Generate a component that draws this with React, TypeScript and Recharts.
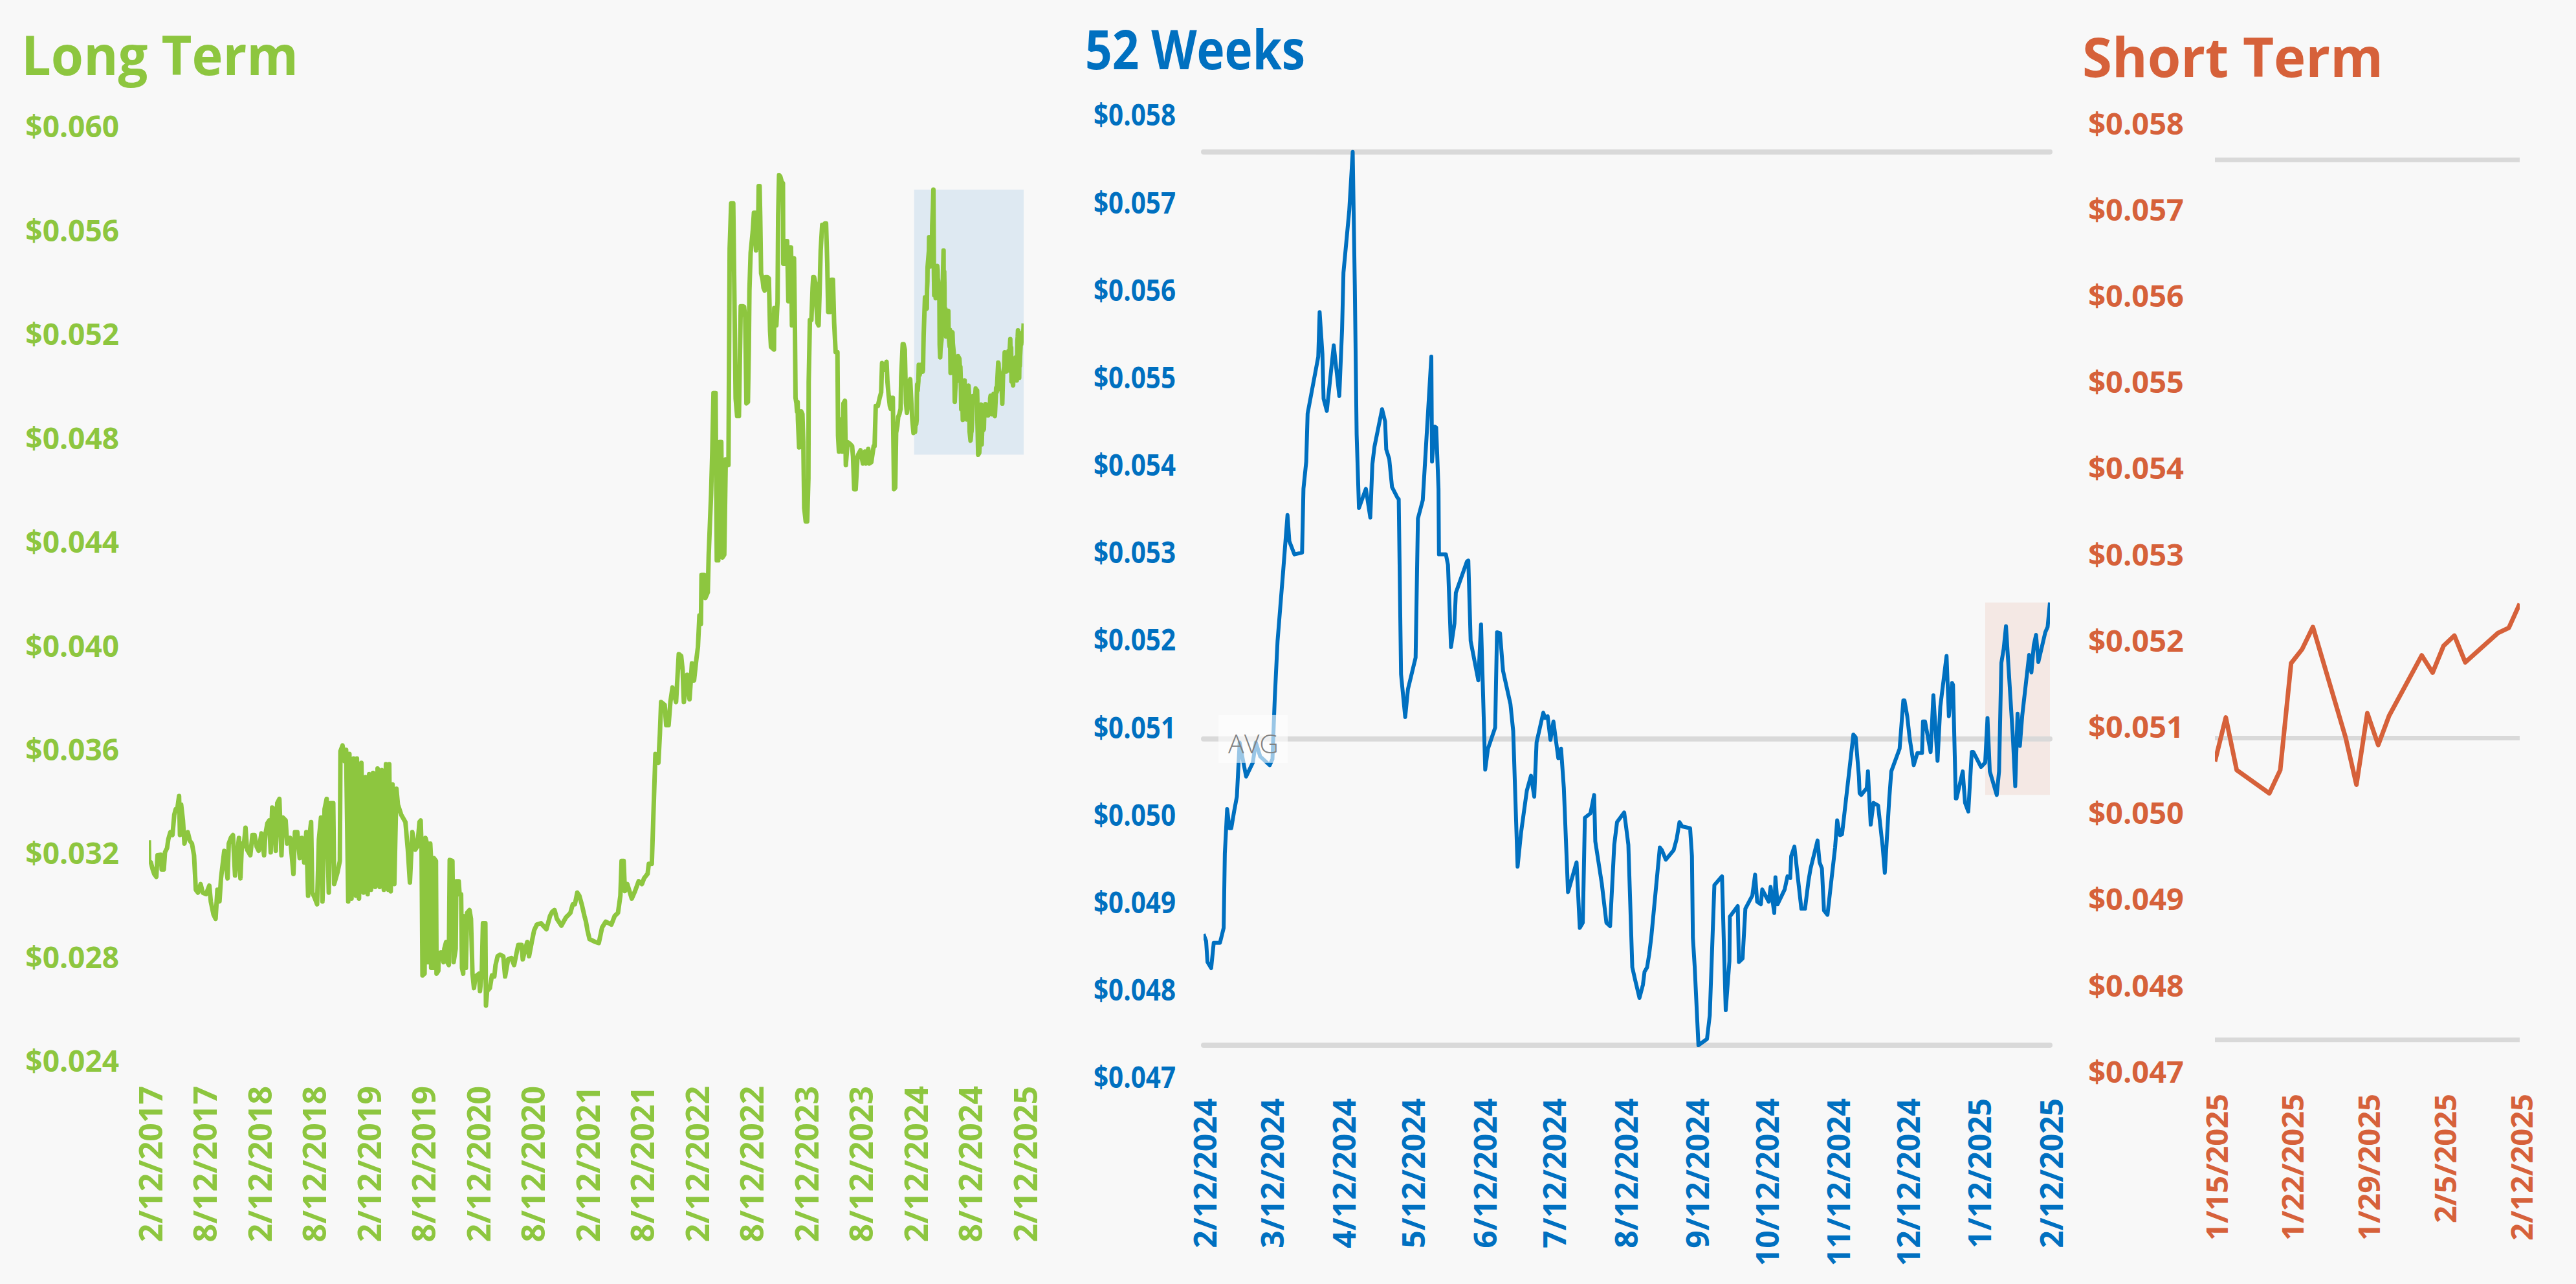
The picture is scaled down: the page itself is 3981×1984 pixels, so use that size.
import React from 'react';
import { LineChart, Line, XAxis, YAxis, ReferenceLine, ReferenceArea } from 'recharts';

// ---------- DATA ----------
// Long term: [days since 2/12/2017, price]
const longTerm2017to2019: [number, number][] = [
  [0,0.03252],[1,0.03172],[7,0.03166],[13,0.03139],[18,0.03122],[25,0.03111],[29,0.03194],[40,0.03196],[43,0.03139],[50,0.03139],
  [54,0.03205],[61,0.03222],[65,0.03255],[72,0.03283],[79,0.03272],[85,0.03350],[90,0.03372],[95,0.03372],[101,0.03422],[104,0.03272],
  [108,0.03389],[114,0.03328],[119,0.03239],[124,0.03272],[130,0.03283],[137,0.03250],[144,0.03239],[151,0.03194],[157,0.03061],[164,0.03050],
  [173,0.03083],[180,0.03050],[191,0.03044],[202,0.03077],[207,0.03016],[216,0.02966],[223,0.02949],[229,0.03061],[236,0.03016],[241,0.03105],
  [252,0.03211],[263,0.03105],[267,0.03239],[274,0.03261],[281,0.03272],[288,0.03116],[295,0.03194],[301,0.03261],[306,0.03105],[311,0.03239],
  [317,0.03228],[323,0.03300],[328,0.03216],[339,0.03194],[346,0.03272],[353,0.03272],[360,0.03228],[367,0.03211],[376,0.03278],[385,0.03194],
  [389,0.03272],[396,0.03317],[402,0.03328],[407,0.03205],[412,0.03378],[418,0.03372],[424,0.03211],[429,0.03395],[436,0.03411],[443,0.03194],
  [448,0.03339],[457,0.03328],[462,0.03239],[472,0.03261],[483,0.03122],[488,0.03283],[496,0.03283],[504,0.03183],[511,0.03261],[519,0.03166],
  [526,0.03283],[532,0.03038],[537,0.03272],[542,0.03322],[546,0.03050],[555,0.03027],[562,0.03005],[568,0.03255],[575,0.03339],[580,0.03016],
  [587,0.03372],[594,0.03411],[601,0.03050],[607,0.03395],[616,0.03395],[619,0.03083],[630,0.03127],[638,0.03172],[640,0.03595],[647,0.03617],
  [654,0.03556],[659,0.03600],[666,0.03016],[670,0.03584],[677,0.03027],[684,0.03567],[692,0.03038],[695,0.03567],[702,0.03027],[710,0.03550],
  [717,0.03050],[724,0.03495],[731,0.03044],[736,0.03506],[742,0.03061],[749,0.03511],[756,0.03072],[764,0.03528],[771,0.03072],[778,0.03522],
  [785,0.03061],[792,0.03545],[800,0.03061],[803,0.03545],[808,0.03055],[814,0.03467],[820,0.03083],[827,0.03450],[832,0.03389],[843,0.03350],
  [857,0.03322],[865,0.03216],[872,0.03089],[880,0.03283],[890,0.03216],[897,0.03228],[904,0.03322],
];
const longTerm2019to2022: [number, number][] = [
  [908,0.03328],[911,0.03216],[914,0.02731],[921,0.02738],[924,0.03261],[929,0.03239],[932,0.02782],[938,0.02782],[940,0.03239],[942,0.03194],
  [943,0.02760],[949,0.02760],[952,0.03183],[959,0.03172],[961,0.02738],[967,0.02749],[968,0.02816],[976,0.02820],[984,0.02782],[987,0.02834],
  [993,0.02860],[997,0.02782],[1002,0.02771],[1005,0.03176],[1014,0.03172],[1018,0.02782],[1025,0.02834],[1027,0.03094],[1035,0.03094],[1038,0.03043],
  [1043,0.03043],[1046,0.02760],[1050,0.02738],[1052,0.02960],[1058,0.02949],[1059,0.02760],[1063,0.02972],[1071,0.02983],[1076,0.02949],[1081,0.02738],
  [1086,0.02682],[1091,0.02727],[1103,0.02738],[1106,0.02671],[1112,0.02738],[1116,0.02932],[1124,0.02932],[1126,0.02615],[1130,0.02671],[1139,0.02682],
  [1146,0.02731],[1154,0.02727],[1158,0.02771],[1165,0.02805],[1173,0.02811],[1184,0.02805],[1190,0.02727],[1200,0.02793],[1211,0.02798],[1220,0.02771],
  [1228,0.02816],[1234,0.02849],[1245,0.02849],[1249,0.02793],[1256,0.02827],[1264,0.02860],[1270,0.02805],[1279,0.02860],[1287,0.02905],[1296,0.02927],
  [1310,0.02932],[1328,0.02909],[1340,0.02960],[1347,0.02976],[1355,0.02983],[1363,0.02949],[1378,0.02923],[1393,0.02954],[1408,0.02972],[1416,0.03005],
  [1423,0.03005],[1431,0.03050],[1438,0.03038],[1446,0.03005],[1455,0.02960],[1460,0.02938],[1465,0.02905],[1472,0.02871],[1491,0.02860],[1503,0.02856],
  [1514,0.02916],[1526,0.02938],[1545,0.02927],[1556,0.02960],[1567,0.02972],[1575,0.03038],[1579,0.03172],[1586,0.03172],[1590,0.03056],[1598,0.03083],
  [1613,0.03027],[1624,0.03056],[1636,0.03094],[1647,0.03083],[1654,0.03105],[1666,0.03123],[1670,0.03161],[1680,0.03161],[1685,0.03339],[1692,0.03584],
  [1702,0.03550],[1707,0.03662],[1711,0.03784],[1723,0.03773],[1728,0.03695],[1736,0.03695],[1742,0.03784],[1749,0.03840],[1761,0.03784],[1770,0.03969],
  [1778,0.03962],[1783,0.03907],[1787,0.03784],[1798,0.03889],[1806,0.03795],[1814,0.03933],[1821,0.03867],[1829,0.03951],[1834,0.03996],[1839,0.04118],
  [1844,0.04085],[1846,0.04274],[1855,0.04274],[1859,0.04185],[1867,0.04207],[1870,0.04352],[1878,0.04586],[1882,0.04752],[1886,0.04975],[1893,0.04975],
  [1897,0.04330],[1902,0.04330],[1907,0.04786],[1912,0.04786],[1916,0.04341],[1922,0.04352],[1927,0.04719],[1936,0.04697],[1940,0.05531],[1945,0.05705],
  [1952,0.05705],[1960,0.04953],[1965,0.04886],[1971,0.04886],[1977,0.05309],[1984,0.05309],
];
const longTerm2022to2024: [number, number][] = [
  [1988,0.05307],[1992,0.05266],[1996,0.04935],[2001,0.04940],[2004,0.05142],[2006,0.05369],[2010,0.05514],[2017,0.05597],[2021,0.05669],[2026,0.05669],
  [2028,0.05524],[2032,0.05659],[2034,0.05535],[2037,0.05772],[2040,0.05772],[2042,0.05659],[2045,0.05436],[2050,0.05411],[2053,0.05380],[2057,0.05369],
  [2060,0.05421],[2066,0.05421],[2071,0.05416],[2075,0.05214],[2078,0.05152],[2083,0.05147],[2088,0.05142],[2089,0.05302],[2096,0.05235],[2100,0.05328],
  [2102,0.05659],[2105,0.05814],[2109,0.05809],[2114,0.05788],[2118,0.05783],[2119,0.05473],[2125,0.05473],[2129,0.05560],[2132,0.05560],[2136,0.05328],
  [2140,0.05328],[2142,0.05535],[2145,0.05535],[2148,0.05235],[2150,0.05493],[2155,0.05493],[2158,0.05225],[2160,0.04956],[2163,0.04935],[2165,0.04904],
  [2167,0.04940],[2168,0.04873],[2172,0.04765],[2176,0.04894],[2179,0.04904],[2183,0.04894],[2186,0.04790],[2189,0.04532],[2194,0.04480],[2199,0.04480],
  [2203,0.04646],[2204,0.05018],[2208,0.05256],[2213,0.05256],[2217,0.05380],[2219,0.05421],[2222,0.05421],[2226,0.05400],[2230,0.05307],[2233,0.05245],
  [2237,0.05235],[2240,0.05349],[2244,0.05524],[2249,0.05622],[2253,0.05617],[2258,0.05628],[2262,0.05628],[2266,0.05473],[2269,0.05287],[2275,0.05287],
  [2280,0.05411],[2285,0.05411],[2289,0.05245],[2294,0.05132],[2300,0.05132],[2302,0.04811],[2305,0.04749],[2309,0.04873],[2313,0.04790],[2316,0.04749],
  [2320,0.04935],[2325,0.04945],[2328,0.04697],[2334,0.04785],[2341,0.04780],[2349,0.04770],[2352,0.04729],[2356,0.04604],[2361,0.04604],[2367,0.04729],
  [2370,0.04739],[2377,0.04754],[2385,0.04703],[2392,0.04749],[2395,0.04703],[2403,0.04759],[2406,0.04703],[2413,0.04708],[2421,0.04770],[2424,0.04770],
  [2428,0.04925],[2435,0.04925],[2441,0.04956],[2446,0.04977],[2449,0.05090],[2453,0.05085],[2457,0.05064],[2464,0.05095],[2467,0.05018],[2471,0.04966],
  [2475,0.04925],[2478,0.04914],[2482,0.04956],[2485,0.04956],[2489,0.04604],[2493,0.04610],[2496,0.04821],[2500,0.04847],[2503,0.04883],[2507,0.04894],
  [2511,0.04914],[2513,0.05039],[2518,0.05163],[2521,0.05163],[2525,0.05142],[2529,0.04935],[2532,0.04899],[2536,0.04956],[2539,0.05018],[2543,0.05028],
  [2547,0.04935],[2550,0.04873],[2554,0.04821],
];

// 52 weeks: [days since 2/12/2024, price]
const yearFirstHalf: [number, number][] = [
  [0,0.04864],[1.1,0.04856],[1.7,0.04832],[3.3,0.04825],[4.4,0.04854],[7.1,0.04854],[8.7,0.04871],[9.2,0.04956],[10.2,0.05007],[11.2,0.04985],
  [12.0,0.04985],[13.2,0.05004],[14.4,0.05021],[15.6,0.05083],[18.4,0.05044],[21.3,0.05060],[22.6,0.05083],[24.5,0.05067],[28.6,0.05057],[29.8,0.05064],
  [30.8,0.05134],[32.0,0.05199],[34.4,0.05278],[36.3,0.05343],[37.1,0.05313],[39.3,0.05298],[42.6,0.05300],[43.2,0.05373],[44.4,0.05404],[45.0,0.05459],
  [49.6,0.05524],[50.2,0.05575],[51.4,0.05527],[51.9,0.05476],[53.3,0.05462],[56.3,0.05537],[58.7,0.05479],[59.9,0.05555],[60.5,0.05620],[63.0,0.05691],
  [64.5,0.05758],[65.4,0.05606],[66.2,0.05435],[67.2,0.05351],[70.2,0.05373],[72.1,0.05340],[73.0,0.05401],[73.9,0.05421],[77.2,0.05464],[78.5,0.05450],
  [79.0,0.05418],[80.3,0.05407],[81.5,0.05375],[83.8,0.05363],[84.4,0.05361],[85.4,0.05161],[87.2,0.05112],[88.4,0.05144],[91.7,0.05180],[92.7,0.05339],
  [94.8,0.05360],[98.5,0.05524],[98.8,0.05404],[100.0,0.05444],[100.6,0.05443],[101.6,0.05373],[101.8,0.05298],[104.8,0.05298],[105.7,0.05286],[107.0,0.05192],
  [108.5,0.05219],[109.1,0.05254],[113.9,0.05290],[114.5,0.05291],[115.5,0.05199],[118.8,0.05154],[120.0,0.05218],[121.8,0.05052],[123.0,0.05076],[126.1,0.05100],
  [126.9,0.05209],[128.2,0.05208],[129.5,0.05165],[132.7,0.05127],[133.9,0.05096],[135.8,0.04941],[137.3,0.04980],[139.8,0.05028],[141.6,0.05045],[143.0,0.05021],
  [144.0,0.05083],[146.9,0.05117],[147.7,0.05111],[148.8,0.05113],[150.0,0.05086],[151.3,0.05107],[153.4,0.05065],[154.6,0.05076],[155.8,0.05031],[157.6,0.04912],
  [161.3,0.04946],[162.7,0.04871],[164.0,0.04877],[164.9,0.04997],[167.3,0.05002],[168.9,0.05023],[169.4,0.04970],[172.2,0.04922],[174.2,0.04877],[175.8,0.04873],
  [177.6,0.04966],[178.8,0.04992],[181.9,0.05003],[182.7,0.04987],[183.7,0.04966],
];
const yearSecondHalf: [number, number][] = [
  [185.4,0.04826],[186.6,0.04812],[188.5,0.04791],[190.0,0.04806],[190.7,0.04821],[191.8,0.04826],[192.7,0.04841],[193.6,0.04860],[197.3,0.04963],[198.2,0.04960],
  [199.9,0.04949],[203.3,0.04960],[204.6,0.04973],[205.8,0.04992],[207.0,0.04987],[210.4,0.04985],[211.2,0.04953],[211.6,0.04860],[212.4,0.04826],[214.0,0.04737],
  [217.7,0.04744],[218.9,0.04771],[220.9,0.04920],[224.2,0.04930],[225.8,0.04777],[227.4,0.04833],[227.6,0.04884],[231.0,0.04896],[231.5,0.04832],[233.1,0.04836],
  [234.3,0.04893],[237.3,0.04908],[238.5,0.04932],[239.4,0.04901],[241.0,0.04898],[241.6,0.04915],[244.4,0.04901],[245.2,0.04918],[246.8,0.04888],[247.3,0.04929],
  [248.2,0.04898],[251.3,0.04915],[252.5,0.04930],[253.7,0.04928],[254.1,0.04953],[255.5,0.04964],[258.5,0.04893],[260.1,0.04893],[261.6,0.04925],[262.5,0.04939],
  [265.5,0.04971],[266.4,0.04946],[267.4,0.04939],[268.3,0.04891],[269.8,0.04886],[273.1,0.04963],[274.0,0.04994],[275.2,0.04977],[276.1,0.04978],[281.0,0.05092],
  [282.0,0.05089],[283.4,0.05044],[283.7,0.05025],[284.4,0.05023],[286.8,0.05031],[287.3,0.05050],[288.5,0.04989],[289.7,0.05014],[291.7,0.05011],[293.7,0.04963],
  [294.6,0.04934],[296.5,0.05018],[297.4,0.05050],[301.0,0.05076],[302.6,0.05131],[303.1,0.05131],[304.3,0.05113],[305.3,0.05089],[307.1,0.05057],[308.7,0.05071],
  [310.7,0.05071],[311.1,0.05107],[312.0,0.05107],[314.4,0.05072],[315.6,0.05137],[317.4,0.05062],[318.6,0.05124],[321.3,0.05182],[322.3,0.05113],[323.7,0.05151],
  [324.1,0.05149],[325.3,0.05019],[325.6,0.05019],[328.3,0.05050],[329.3,0.05014],[330.7,0.05004],[332.2,0.05072],[332.9,0.05072],[336.2,0.05055],
];

// Short term: daily closes
const shortDates = ['1/15/2025','1/16/2025','1/17/2025','1/20/2025','1/21/2025','1/22/2025','1/23/2025','1/24/2025','1/27/2025','1/28/2025','1/29/2025',
  '1/30/2025','1/31/2025','2/3/2025','2/4/2025','2/5/2025','2/6/2025','2/7/2025','2/10/2025','2/11/2025','2/12/2025'];
const shortPrices = [0.05060,0.05111,0.05050,0.05023,0.05050,0.05174,0.05190,0.05216,0.05088,0.05033,0.05116,
  0.05079,0.05113,0.05183,0.05163,0.05194,0.05206,0.05175,0.05209,0.05215,0.05243];

const yearAverage = 0.05087;

// Ticks
const longTicksLabels = ['2/12/2017','8/12/2017','2/12/2018','8/12/2018','2/12/2019','8/12/2019','2/12/2020','8/12/2020','2/12/2021',
  '8/12/2021','2/12/2022','8/12/2022','2/12/2023','8/12/2023','2/12/2024','8/12/2024','2/12/2025'];
const yearTickLabels = ['2/12/2024','3/12/2024','4/12/2024','5/12/2024','6/12/2024','7/12/2024','8/12/2024','9/12/2024','10/12/2024',
  '11/12/2024','12/12/2024','1/12/2025','2/12/2025'];
const shortTickLabels = ['1/15/2025','1/22/2025','1/29/2025','2/5/2025','2/12/2025'];
const longYTicks = [0.024,0.028,0.032,0.036,0.040,0.044,0.048,0.052,0.056,0.060];
const yearYTicks = [0.047,0.048,0.049,0.050,0.051,0.052,0.053,0.054,0.055,0.056,0.057,0.058];

// ---------- HELPERS ----------
const DAY_MS = 86400000;
const toTime = (s: string) => { const [m, d, y] = s.split('/').map(Number); return Date.UTC(y, m - 1, d); };
const fmtDate = (t: number) => { const dt = new Date(t); return `${dt.getUTCMonth() + 1}/${dt.getUTCDate()}/${dt.getUTCFullYear()}`; };
const fmtPrice = (v: number) => `$${v.toFixed(3)}`;

const longStart = toTime('2/12/2017');
const yearStart = toTime('2/12/2024');
const shortStart = toTime('1/15/2025');
const endDate = toTime('2/12/2025');

const shortData = shortDates.map((d, i) => ({ t: toTime(d), v: shortPrices[i] }));
const yearData = [...yearFirstHalf, ...yearSecondHalf]
  .map(([d, v]) => ({ t: yearStart + d * DAY_MS, v }))
  .concat(shortData);
const longData = [...longTerm2017to2019, ...longTerm2019to2022, ...longTerm2022to2024]
  .map(([d, v]) => ({ t: longStart + d * DAY_MS, v }))
  .concat(yearData);

const yearHigh = Math.max(...yearData.map((p) => p.v));
const yearLow = Math.min(...yearData.map((p) => p.v));
const shortHigh = Math.max(...shortPrices);
const shortLow = Math.min(...shortPrices);

const GREEN = '#8dc63f';
const BLUE = '#0070c0';
const ORANGE = '#d6613a';
const GRID = '#d9d9d9';
const FONT = "'Open Sans', 'Noto Sans', sans-serif";

const makeYTick = (color: string, fontSize: number, textLength?: number) => (props: any) => {
  const { x, y, payload } = props;
  return (
    <text x={x} y={y} dy="0.355em" textAnchor="end" fill={color} fontSize={fontSize} fontWeight={700}
      fontFamily={FONT} {...(textLength ? { textLength, lengthAdjust: 'spacingAndGlyphs' } : {})}>
      {fmtPrice(payload.value)}
    </text>
  );
};
const makeXTick = (color: string, fontSize: number) => (props: any) => {
  const { x, y, payload } = props;
  return (
    <text x={x} y={y} dy="0.42em" transform={`rotate(-90 ${x} ${y})`} textAnchor="end" fill={color}
      fontSize={fontSize} fontWeight={700} fontFamily={FONT}>
      {fmtDate(payload.value)}
    </text>
  );
};

const AvgLabel = (props: any) => {
  const vb = props.viewBox || {};
  const x = vb.x ?? 0;
  const y = vb.y ?? 0;
  return (
    <g>
      <rect x={x + 23} y={y - 37} width={107} height={74} fill="#ffffff" fillOpacity={0.6} />
      <text x={x + 77} y={y + 7} textAnchor="middle" dominantBaseline="central" fill="#808080" fontSize={40}
        fontWeight={300} fontFamily={FONT} textLength={78} lengthAdjust="spacingAndGlyphs">AVG</text>
    </g>
  );
};

export default function App() {
  const H = 1984;
  return (
    <div style={{ position: 'absolute', left: 0, top: 0, width: 3981, height: H, background: '#f8f8f8', overflow: 'hidden' }}>
      {/* Long term */}
      <div style={{ position: 'absolute', left: 0, top: 0 }}>
        <LineChart width={1640} height={H} data={longData} margin={{ top: 196, right: 58, bottom: 0, left: 0 }}>
          <XAxis dataKey="t" type="number" domain={[longStart, endDate]} ticks={longTicksLabels.map(toTime)}
            tick={makeXTick(GREEN, 50)} interval={0} tickLine={false} axisLine={false} tickSize={0} tickMargin={38}
            height={344} allowDataOverflow />
          <YAxis type="number" domain={[0.024, 0.06]} ticks={longYTicks} tick={makeYTick(GREEN, 46)} interval={0}
            tickLine={false} axisLine={false} tickSize={0} tickMargin={46} width={230} allowDataOverflow />
          <Line type="linear" dataKey="v" stroke={GREEN} strokeWidth={7} dot={false} activeDot={false}
            strokeLinejoin="round" isAnimationActive={false} />
          <ReferenceArea x1={yearStart} x2={endDate} y1={yearLow} y2={yearHigh} fill={BLUE} fillOpacity={0.1}
            stroke="none" ifOverflow="visible" />
        </LineChart>
      </div>

      {/* 52 weeks */}
      <div style={{ position: 'absolute', left: 1600, top: 0 }}>
        <LineChart width={1640} height={H} data={yearData} margin={{ top: 178, right: 72, bottom: 0, left: 0 }}>
          <XAxis dataKey="t" type="number" domain={[yearStart, endDate]} ticks={yearTickLabels.map(toTime)}
            tick={makeXTick(BLUE, 48)} interval={0} tickLine={false} axisLine={false} tickSize={0} tickMargin={32}
            height={319} allowDataOverflow />
          <YAxis type="number" domain={[0.047, 0.058]} ticks={yearYTicks} tick={makeYTick(BLUE, 46, 127)} interval={0}
            tickLine={false} axisLine={false} tickSize={0} tickMargin={43} width={260} allowDataOverflow />
          <ReferenceLine y={yearHigh} stroke={GRID} strokeWidth={8} strokeLinecap="round" />
          <ReferenceLine y={yearLow} stroke={GRID} strokeWidth={8} strokeLinecap="round" />
          <ReferenceLine y={yearAverage} stroke={GRID} strokeWidth={8} strokeLinecap="round" />
          <Line type="linear" dataKey="v" stroke={BLUE} strokeWidth={6} dot={false} activeDot={false}
            strokeLinejoin="round" isAnimationActive={false} />
          <ReferenceLine y={yearAverage} stroke="none" label={<AvgLabel />} />
          <ReferenceArea x1={shortStart} x2={endDate} y1={shortLow} y2={shortHigh} fill={ORANGE} fillOpacity={0.1}
            stroke="none" ifOverflow="visible" />
        </LineChart>
      </div>

      {/* Short term */}
      <div style={{ position: 'absolute', left: 3200, top: 0 }}>
        <LineChart width={781} height={H} data={shortData} margin={{ top: 191, right: 87, bottom: 0, left: 0 }}>
          <XAxis dataKey="t" type="number" domain={[shortStart, endDate]} ticks={shortTickLabels.map(toTime)}
            tick={makeXTick(ORANGE, 47)} interval={0} tickLine={false} axisLine={false} tickSize={0} tickMargin={34}
            height={328} allowDataOverflow />
          <YAxis type="number" domain={[0.047, 0.058]} ticks={yearYTicks} tick={makeYTick(ORANGE, 47)} interval={0}
            tickLine={false} axisLine={false} tickSize={0} tickMargin={48} width={223} allowDataOverflow />
          <ReferenceLine y={yearHigh} stroke={GRID} strokeWidth={7} />
          <ReferenceLine y={yearLow} stroke={GRID} strokeWidth={7} />
          <ReferenceLine y={yearAverage} stroke={GRID} strokeWidth={7} />
          <Line type="linear" dataKey="v" stroke={ORANGE} strokeWidth={7} dot={false} activeDot={false}
            strokeLinejoin="round" isAnimationActive={false} />
        </LineChart>
      </div>

      {/* Titles */}
      <svg width={3981} height={H} style={{ position: 'absolute', left: 0, top: 0, pointerEvents: 'none' }}>
        <text x={33} y={116} fill={GREEN} fontSize={84} fontWeight={700} fontFamily={FONT}
          textLength={428} lengthAdjust="spacingAndGlyphs">Long Term</text>
        <text x={1677} y={107} fill={BLUE} fontSize={84} fontWeight={700} fontFamily={FONT}
          textLength={340} lengthAdjust="spacingAndGlyphs">52 Weeks</text>
        <text x={3218} y={119} fill={ORANGE} fontSize={84} fontWeight={700} fontFamily={FONT}
          textLength={465} lengthAdjust="spacingAndGlyphs">Short Term</text>
      </svg>
    </div>
  );
}
